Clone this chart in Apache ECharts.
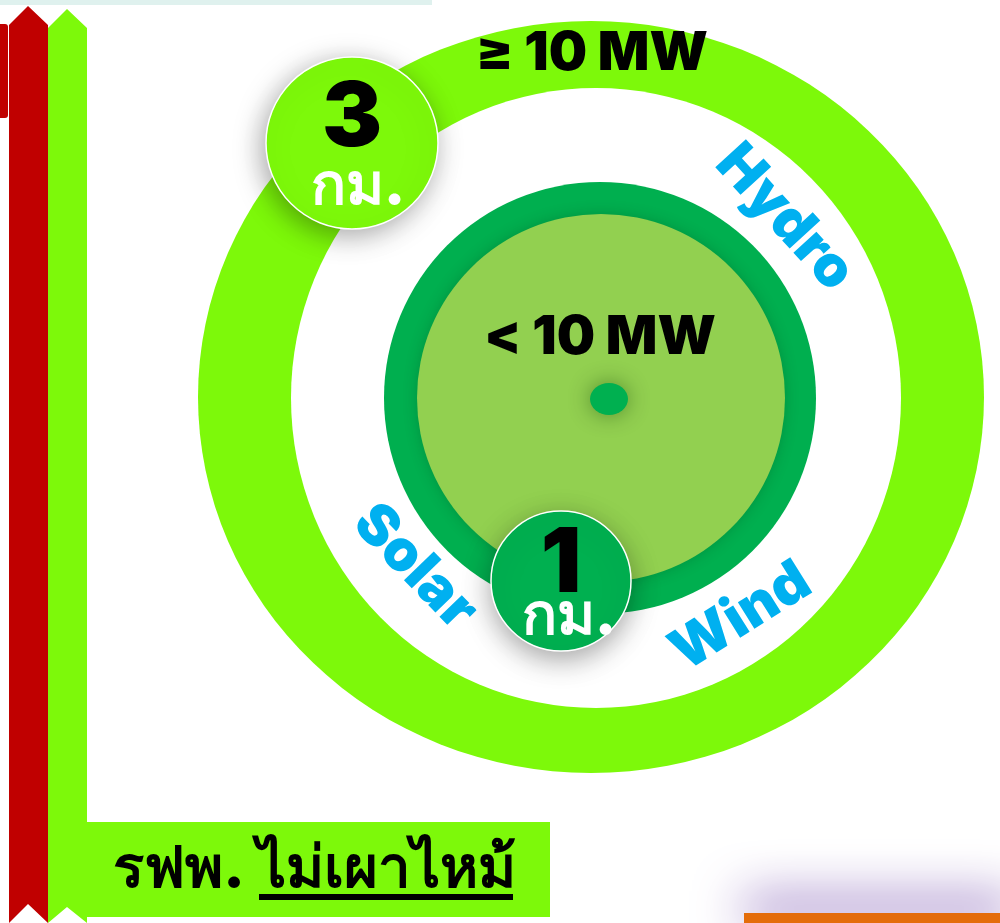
<!DOCTYPE html>
<html><head><meta charset="utf-8">
<script src="https://cdn.jsdelivr.net/npm/echarts@6/dist/echarts.min.js"></script>
<style>html,body{margin:0;padding:0;background:#fff;overflow:hidden}#c{width:1000px;height:923px}</style>
</head><body><div id="c"></div>
<script>
// ---- content ----
const zoneLabels = ['< 10 MW', '≥ 10 MW'];
const zoneDistances = ['1', '3'];
const distanceUnit = 'กม.';
const technologies = ['Hydro', 'Solar', 'Wind'];
const footerPrefix = 'รฟพ.';
const footerEmphasis = 'ไม่เผาไหม้';

// ---- style ----
const LIME = '#7DF90A', DARK = '#00AF4F', LIGHT = '#92D050', RED = '#C00000', BLUE = '#00B0F0';
const FONT = 'Inter, "DejaVu Sans", "Noto Sans", sans-serif';

const chart = echarts.init(document.getElementById('c'), null, {renderer: 'canvas'});

function txt(text, x, y, size, color, rot, extra) {
  return Object.assign({
    type: 'text', x: x, y: y, rotation: rot || 0, z: 20,
    style: {text: text, x: 0, y: 0, fill: color, font: '900 ' + size + 'px ' + FONT,
      textAlign: 'center', textVerticalAlign: 'middle'}
  }, extra || {});
}

const techPos = [
  {x: 785, y: 218, r: -0.83},
  {x: 415, y: 567, r: -0.80},
  {x: 741, y: 617, r: 0.56}
];

const graphics = [
  // top faint line
  {type: 'rect', shape: {x: 0, y: 0, width: 432, height: 5}, style: {fill: '#DFF1EE'}},
  // left partial red tab
  {type: 'rect', shape: {x: -6, y: 24, width: 14, height: 94, r: 3}, style: {fill: RED}},
  // red arrow
  {type: 'polygon', shape: {points: [[9, 25], [28, 6], [48, 25], [48, 923], [28, 904], [9, 923]]}, style: {fill: RED}},
  // lime arrow
  {type: 'polygon', shape: {points: [[48, 28], [67, 9], [87, 28], [87, 923], [67, 907], [48, 923]]}, style: {fill: LIME}},
  // outer ring
  {type: 'circle', x: 591, y: 397, scaleY: 376 / 393, shape: {cx: 0, cy: 0, r: 393}, style: {fill: LIME}, z: 1},
  {type: 'circle', x: 596, y: 398, scaleY: 310 / 305, shape: {cx: 0, cy: 0, r: 305}, style: {fill: '#fff'}, z: 2},
  // inner zone
  {type: 'circle', shape: {cx: 600, cy: 398, r: 216}, style: {fill: DARK}, z: 3},
  {type: 'circle', shape: {cx: 601, cy: 398, r: 184}, style: {fill: LIGHT, shadowBlur: 14, shadowColor: 'rgba(0,60,20,0.25)'}, z: 4},
  // center dot
  {type: 'circle', x: 609, y: 399, scaleY: 16 / 19, shape: {cx: 0, cy: 0, r: 19}, style: {fill: '#00B050', shadowBlur: 22, shadowColor: 'rgba(0,50,0,0.45)'}, z: 6},
  // zone labels
  txt(zoneLabels[0], 600, 338, 54, '#000'),
  txt(zoneLabels[1], 592, 54, 54, '#000'),
  // technology labels
  ...technologies.map((t, i) => txt(t, techPos[i].x, techPos[i].y, 57, BLUE, techPos[i].r)),
  // distance badges
  {type: 'circle', shape: {cx: 352, cy: 143, r: 86}, style: {fill: LIME, stroke: '#fff', lineWidth: 1.5, shadowBlur: 28, shadowOffsetX: -4, shadowOffsetY: 6, shadowColor: 'rgba(0,0,0,0.35)'}, z: 30},
  txt(zoneDistances[1], 352, 119, 90, '#000', 0, {z: 31}),
  txt(distanceUnit, 358, 187, 58, '#fff', 0, {z: 31}),
  {type: 'circle', shape: {cx: 561, cy: 581, r: 70}, style: {fill: '#00B050', stroke: '#fff', lineWidth: 1.5, shadowBlur: 28, shadowOffsetY: 8, shadowColor: 'rgba(0,0,0,0.35)'}, z: 30},
  txt(zoneDistances[0], 561, 565, 90, '#000', 0, {z: 31}),
  txt(distanceUnit, 569, 617, 58, '#fff', 0, {z: 31}),
  // footer
  {type: 'rect', shape: {x: 87, y: 822, width: 463, height: 95}, style: {fill: LIME}, z: 10},
  {type: 'text', z: 11, style: {text: footerPrefix, x: 245, y: 870, fill: '#000', font: '900 58px ' + FONT, textAlign: 'right', textVerticalAlign: 'middle'}},
  {type: 'text', z: 11, style: {text: footerEmphasis, x: 386, y: 870, fill: '#000', font: '900 58px ' + FONT, textAlign: 'center', textVerticalAlign: 'middle'}},
  {type: 'rect', z: 11, shape: {x: 259, y: 894, width: 254, height: 6}, style: {fill: '#000'}},
  // bottom-right orange bar
  {type: 'rect', shape: {x: 744, y: 913, width: 270, height: 20}, style: {fill: '#E46C0A', shadowBlur: 50, shadowOffsetY: -14, shadowColor: 'rgba(120,80,175,0.95)'}, z: 5}
];

chart.setOption({animation: false, graphic: {elements: graphics}});
</script></body></html>
